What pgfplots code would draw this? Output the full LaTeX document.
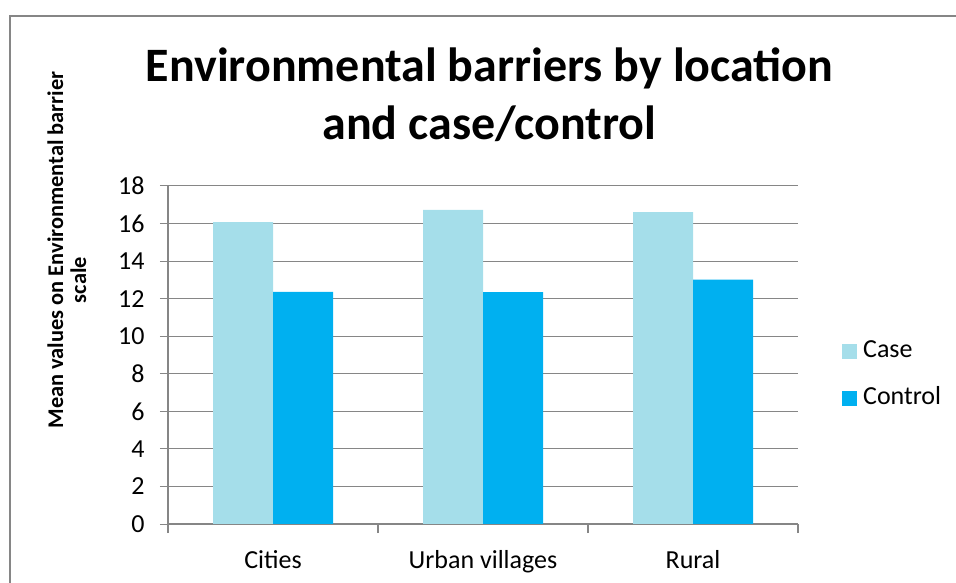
\documentclass[border=0pt]{standalone}
\usepackage{pgfplots}
\pgfplotsset{compat=1.18}
\usepackage{fontspec}
\setmainfont{Carlito}
\definecolor{casec}{HTML}{A5DEEA}
\definecolor{ctrlc}{HTML}{00B0F0}
\definecolor{axgray}{HTML}{868686}
\begin{document}
\begin{tikzpicture}
\useasboundingbox (0,0) rectangle (956bp,583bp);
\draw[axgray, line width=1.5bp] (10bp,0bp) -- (10bp,567bp) -- (956bp,567bp);
\begin{axis}[
  at={(168bp,59bp)}, anchor=south west,
  scale only axis, width=630bp, height=338bp,
  xmin=-0.5, xmax=2.5, ymin=0, ymax=18,
  ybar=0pt, bar width=60bp,
  axis x line*=bottom, axis y line*=left,
  axis line style={axgray, line width=1.3bp, -},
  ytick={0,2,...,18},
  ymajorgrids, grid style={axgray, line width=1bp},
  xtick={0,1,2}, xticklabels={Cities,Urban villages,Rural},
  major x tick style={draw=none},
  minor xtick={-0.5,0.5,1.5,2.5},
  minor x tick style={axgray, line width=1.3bp},
  tick align=outside, major tick length=8bp, minor tick length=9bp,
  y tick style={axgray, line width=1bp},
  /pgf/number format/assume math mode=true,
  tick label style={font=\fontsize{26bp}{30bp}\selectfont, text=black},
  xticklabel style={yshift=-15bp},
  yticklabel style={xshift=-12bp},
  legend style={draw=none, fill=none, at={(1.065,0.442)}, anchor=west,
    font=\fontsize{26bp}{30bp}\selectfont,
    nodes={inner sep=0pt, text height=18bp, text depth=5bp},
    row sep=24bp, column sep=6bp},
  legend cell align=left,
  legend image code/.code={\draw[#1, draw=none] (0bp,-7.5bp) rectangle (15bp,7.5bp);},
]
\addplot[fill=casec, draw=none] coordinates {(0,16.07) (1,16.73) (2,16.61)};
\addplot[fill=ctrlc, draw=none] coordinates {(0,12.36) (1,12.35) (2,13.01)};
\legend{Case,Control}
\end{axis}
\node[anchor=base, font=\fontsize{48bp}{56bp}\selectfont\bfseries] at (489.5bp,501bp) {Environmental barriers by location};
\node[anchor=base, font=\fontsize{48bp}{56bp}\selectfont\bfseries] at (489.5bp,443bp) {and case/control};
\node[anchor=base, rotate=90, font=\bfseries\fontsize{22.4bp}{27bp}\selectfont] at (63bp,333bp) {Mean values on Environmental barrier};
\node[anchor=base, rotate=90, font=\bfseries\fontsize{22.4bp}{27bp}\selectfont] at (86bp,303bp) {scale};
\end{tikzpicture}
\end{document}
